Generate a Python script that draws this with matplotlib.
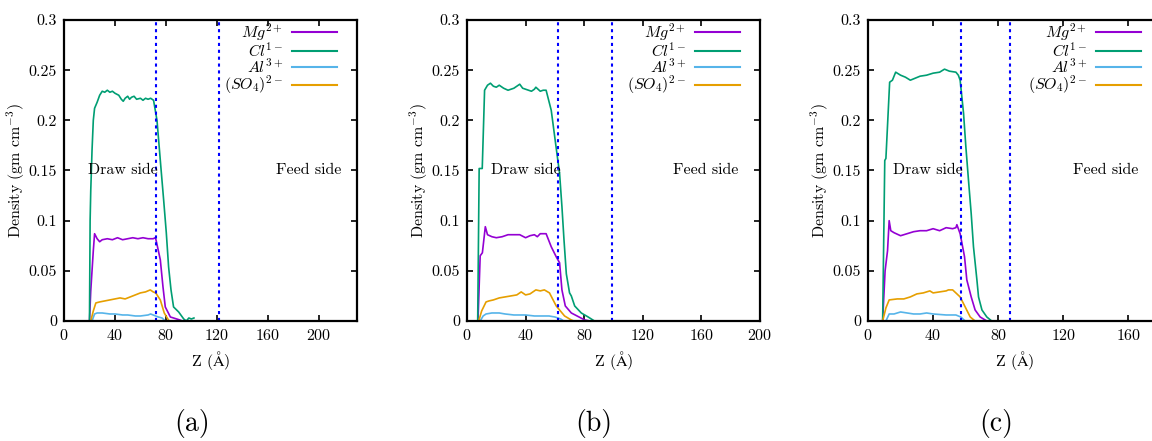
import matplotlib
matplotlib.use("Agg")
import matplotlib.pyplot as plt

plt.rcParams['font.family'] = 'serif'
plt.rcParams['font.serif'] = ['cmr10', 'DejaVu Serif']
plt.rcParams['mathtext.fontset'] = 'cm'
plt.rcParams['axes.formatter.use_mathtext'] = True
plt.rcParams['font.size'] = 11.5

# ---------------- data ----------------
# Panel (a)
a_cl_z = [20, 20.5, 21, 22, 23, 24, 26, 28, 30, 32, 34, 36, 38, 40, 43, 45, 46.5, 48, 50, 51.5, 53, 55, 57, 60, 62, 64, 66, 68, 70.3, 73, 76, 78.2, 80.3, 82.1, 84, 86, 90, 94, 96, 98, 100, 102]
a_cl_d = [0.0, 0.10, 0.13, 0.17, 0.20, 0.212, 0.218, 0.225, 0.229, 0.228, 0.23, 0.228, 0.229, 0.227, 0.225, 0.221, 0.219, 0.222, 0.224, 0.221, 0.223, 0.224, 0.221, 0.222, 0.22, 0.222, 0.221, 0.222, 0.22, 0.20, 0.154, 0.121, 0.088, 0.054, 0.031, 0.014, 0.009, 0.002, 0.0, 0.003, 0.002, 0.003]
a_mg_z = [20, 21, 22, 23, 24, 26, 28, 30, 34, 38, 42, 46, 50, 54, 58, 62, 66, 70, 71.6, 72.2, 75.6, 77.7, 79.5, 83.5, 91, 93]
a_mg_d = [0.0, 0.03, 0.05, 0.07, 0.087, 0.082, 0.079, 0.081, 0.082, 0.081, 0.083, 0.081, 0.082, 0.083, 0.082, 0.083, 0.082, 0.082, 0.083, 0.081, 0.061, 0.034, 0.014, 0.004, 0.001, 0.0]
a_so4_z = [21, 23, 25, 28, 32, 36, 40, 44, 48, 52, 56, 60, 64, 67.7, 70, 72, 75.6, 78.7, 82, 83]
a_so4_d = [0.0, 0.01, 0.018, 0.019, 0.02, 0.021, 0.022, 0.023, 0.022, 0.024, 0.026, 0.028, 0.029, 0.031, 0.029, 0.028, 0.021, 0.008, 0.001, 0.0]
a_al_z = [22, 24, 26, 30, 36, 40, 46, 50, 56, 60, 66, 68, 70, 74, 77, 79.5]
a_al_d = [0.0, 0.007, 0.008, 0.008, 0.007, 0.007, 0.006, 0.006, 0.005, 0.005, 0.006, 0.007, 0.006, 0.004, 0.003, 0.0]
a_lines = [72, 122]
a_text = [46.5, 192]

# Panel (b)
b_cl_z = [7.3, 8.3, 9.6, 10.4, 12, 14, 16, 18, 20, 22, 25, 28, 30, 32, 34, 36, 38, 40, 44, 46, 47, 50, 52, 54, 57.5, 60.2, 63.2, 64.8, 66.2, 67.8, 70, 71.2, 73.5, 78, 82.7, 87]
b_cl_d = [0.0, 0.152, 0.152, 0.152, 0.23, 0.235, 0.237, 0.234, 0.233, 0.235, 0.232, 0.23, 0.231, 0.232, 0.234, 0.236, 0.232, 0.231, 0.229, 0.231, 0.233, 0.229, 0.23, 0.23, 0.21, 0.18, 0.147, 0.114, 0.081, 0.047, 0.028, 0.025, 0.015, 0.008, 0.004, 0.0]
b_mg_z = [7.5, 9, 10.5, 12.5, 14, 17, 20, 24, 28, 32, 36, 40, 43, 46, 48, 50, 54, 57.5, 60.9, 63.2, 64.8, 67.1, 71.2, 80.4, 84]
b_mg_d = [0.0, 0.065, 0.068, 0.094, 0.086, 0.084, 0.083, 0.084, 0.086, 0.086, 0.086, 0.083, 0.085, 0.086, 0.084, 0.087, 0.087, 0.074, 0.064, 0.058, 0.031, 0.015, 0.008, 0.001, 0.0]
b_so4_z = [8, 10, 13, 15, 18, 22, 26, 30, 34, 37, 40, 43, 47, 50, 52.8, 56.3, 60.9, 66.6, 71.2, 73]
b_so4_d = [0.0, 0.01, 0.019, 0.02, 0.021, 0.023, 0.024, 0.025, 0.026, 0.029, 0.026, 0.027, 0.031, 0.03, 0.031, 0.028, 0.015, 0.005, 0.001, 0.0]
b_al_z = [9, 11, 13, 17, 22, 26, 32, 40, 46, 50, 56, 60, 64, 66]
b_al_d = [0.0, 0.005, 0.007, 0.008, 0.008, 0.007, 0.006, 0.006, 0.005, 0.005, 0.005, 0.004, 0.002, 0.0]
b_lines = [62, 99]
b_text = [40, 163]

# Panel (c)
c_cl_z = [9, 10.3, 11, 13.3, 15, 17, 20, 23, 26, 29, 32, 36, 40, 44, 47, 50, 54, 55.5, 56.6, 58.7, 60.1, 61.7, 63.4, 64.8, 66.9, 67.9, 70, 73, 76]
c_cl_d = [0.0, 0.16, 0.162, 0.238, 0.24, 0.248, 0.245, 0.243, 0.24, 0.242, 0.244, 0.245, 0.247, 0.248, 0.251, 0.249, 0.248, 0.245, 0.24, 0.207, 0.174, 0.141, 0.107, 0.074, 0.041, 0.024, 0.011, 0.004, 0.0]
c_mg_z = [9, 10.5, 12, 13, 14, 16, 20, 24, 28, 32, 36, 40, 44, 48, 52, 54, 54.6, 56.6, 59.3, 60.7, 63.4, 65.8, 68.9, 73]
c_mg_d = [0.0, 0.05, 0.07, 0.1, 0.09, 0.088, 0.085, 0.087, 0.089, 0.09, 0.09, 0.092, 0.09, 0.093, 0.092, 0.093, 0.096, 0.087, 0.064, 0.041, 0.024, 0.011, 0.004, 0.0]
c_so4_z = [9, 11, 13, 18, 22, 26, 30, 34, 38, 40, 44, 48, 49.4, 52, 56.6, 59.7, 62.8, 65.8]
c_so4_d = [0.0, 0.013, 0.021, 0.022, 0.022, 0.024, 0.027, 0.028, 0.03, 0.028, 0.029, 0.03, 0.031, 0.031, 0.024, 0.014, 0.004, 0.0]
c_al_z = [11, 13, 16, 20, 24, 28, 32, 36, 40, 48, 54, 57, 59.7]
c_al_d = [0.0, 0.007, 0.007, 0.009, 0.008, 0.007, 0.007, 0.008, 0.007, 0.006, 0.006, 0.004, 0.0]
c_lines = [57, 87]
c_text = [36.5, 146]

species = [r'$Mg^{2+}$', r'$Cl^{1-}$', r'$Al^{3+}$', r'$(SO_4)^{2-}$']
colors = ['#9400D3', '#009E73', '#56B4E9', '#E69F00']
y_ticks = [0, 0.05, 0.1, 0.15, 0.2, 0.25, 0.3]
y_ticklabels = ['0', '0.05', '0.1', '0.15', '0.2', '0.25', '0.3']
captions = ['(a)', '(b)', '(c)']

panels = [
    dict(data=[(a_mg_z, a_mg_d), (a_cl_z, a_cl_d), (a_al_z, a_al_d), (a_so4_z, a_so4_d)],
         lines=a_lines, text=a_text, xlim=230, xticks=[0, 40, 80, 120, 160, 200]),
    dict(data=[(b_mg_z, b_mg_d), (b_cl_z, b_cl_d), (b_al_z, b_al_d), (b_so4_z, b_so4_d)],
         lines=b_lines, text=b_text, xlim=200, xticks=[0, 40, 80, 120, 160, 200]),
    dict(data=[(c_mg_z, c_mg_d), (c_cl_z, c_cl_d), (c_al_z, c_al_d), (c_so4_z, c_so4_d)],
         lines=c_lines, text=c_text, xlim=180, xticks=[0, 40, 80, 120, 160]),
]

W, H = 1152, 441
fig = plt.figure(figsize=(W / 100, H / 100), dpi=100)
lefts = [64, 467, 868]
cap_x = [192, 594, 996]
ax_w, ax_bot, ax_h = 293, 120, 301

for i, p in enumerate(panels):
    ax = fig.add_axes([lefts[i] / W, ax_bot / H, ax_w / W, ax_h / H])
    for (z, d), lab, col in zip(p['data'], species, colors):
        ax.plot(z, d, color=col, lw=1.2, label=lab)
    for xv in p['lines']:
        ax.axvline(xv, color='blue', lw=1.5, ls=(0, (1.5, 1.8)))
    ax.text(p['text'][0], 0.15, 'Draw side', ha='center', va='center', fontsize=11.5)
    ax.text(p['text'][1], 0.15, 'Feed side', ha='center', va='center', fontsize=11.5)
    ax.set_xlim(0, p['xlim'])
    ax.set_ylim(0, 0.3)
    ax.set_xticks(p['xticks'])
    ax.set_yticks(y_ticks)
    ax.set_yticklabels(y_ticklabels)
    ax.tick_params(direction='in', top=True, right=True, length=4, width=1.2, labelsize=11.5, pad=5)
    for s in ax.spines.values():
        s.set_linewidth(1.6)
    ax.set_xlabel('Z ($\\mathrm{\\AA}$)', fontsize=11.5, labelpad=4)
    ax.set_ylabel('Density (gm cm$^{-3}$)', fontsize=11.5, labelpad=1)
    leg = ax.legend(loc='upper right', bbox_to_anchor=(272.7 / 293, 0.995),
                    frameon=False, markerfirst=False, fontsize=11.5,
                    handlelength=2.8, handletextpad=0.55, labelspacing=-0.12,
                    borderaxespad=0.0, borderpad=0.0)
    for t in leg.get_texts():
        t.set_ha('right')
    for lh in leg.get_lines():
        lh.set_linewidth(1.5)
    fig.text(cap_x[i] / W, 18 / H, captions[i], ha='center', va='center', fontsize=20)

fig.savefig('out.png', dpi=100)
